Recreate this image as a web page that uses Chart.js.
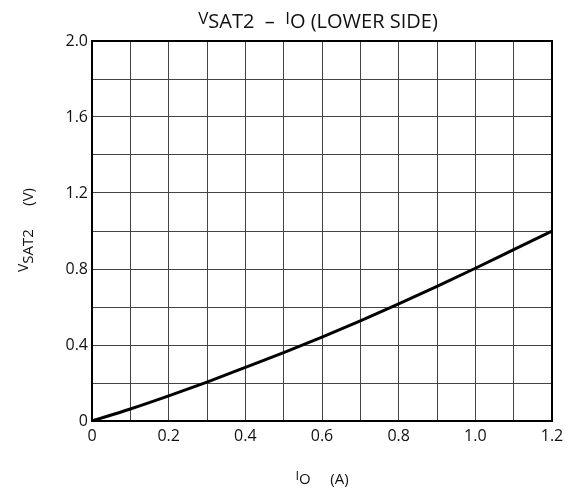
<!DOCTYPE html>
<html>
<head>
<meta charset="utf-8">
<script src="https://cdn.jsdelivr.net/npm/chart.js@4.4.0/dist/chart.umd.min.js"></script>
<style>
  html, body { margin: 0; padding: 0; background: #fff; }
  #wrap { width: 573px; height: 490px; }
</style>
</head>
<body>
<div id="wrap"><canvas id="vsatChart" width="573" height="490"></canvas></div>
<script>
// output current Io (A) and lower side saturation voltage Vsat2 (V)
var currentA = [0, 0.1, 0.2, 0.3, 0.4, 0.5, 0.6, 0.7, 0.8, 0.9, 1.0, 1.1, 1.2];
var vsat2 = [0, 0.063, 0.132, 0.205, 0.282, 0.36, 0.442, 0.527, 0.616, 0.708, 0.804, 0.902, 1.0];

var xTickLabels = ['0', '0.2', '0.4', '0.6', '0.8', '1.0', '1.2'];
var yTickLabels = ['0', '0.4', '0.8', '1.2', '1.6', '2.0'];

// texts: [text, raised] - the leading letter is small and raised like in the datasheet
var titleParts = [['V', 1], ['SAT2', 0], ['  \u2013  ', 0], ['I', 1], ['O', 0], [' (LOWER SIDE)', 0]];
var yTitleParts = [['V', 1], ['SAT2', 0], ['      (V)', 0]];
var xTitleParts = [['I', 1], ['O', 0], ['     (A)', 0]];

var FONT = '"Open Sans", "DejaVu Sans", sans-serif';

function drawParts(ctx, parts, x, y, size, smallSize, rise) {
    var w = 0;
    parts.forEach(function (p) {
        ctx.font = (p[1] ? smallSize : size) + 'px ' + FONT;
        w += ctx.measureText(p[0]).width;
    });
    var cx = x - w / 2;
    ctx.textAlign = 'left';
    ctx.textBaseline = 'alphabetic';
    parts.forEach(function (p) {
        ctx.font = (p[1] ? smallSize : size) + 'px ' + FONT;
        ctx.fillText(p[0], cx, p[1] ? y - rise : y);
        cx += ctx.measureText(p[0]).width;
    });
}

var textPlugin = {
    id: 'richText',
    afterDraw: function (chart) {
        var ctx = chart.ctx;
        var a = chart.chartArea;
        ctx.save();
        // frame
        ctx.strokeStyle = '#000';
        ctx.lineWidth = 2;
        ctx.strokeRect(a.left, a.top, a.right - a.left, a.bottom - a.top);
        ctx.fillStyle = '#111';
        drawParts(ctx, titleParts, 318, 28, 20, 17, 4);
        drawParts(ctx, xTitleParts, 322, 484, 15, 13, 4);
        ctx.translate(33, 230);
        ctx.rotate(-Math.PI / 2);
        drawParts(ctx, yTitleParts, 0, 0, 15, 14, 5);
        ctx.restore();
    }
};

var points = currentA.map(function (x, i) {
    return { x: x, y: vsat2[i] };
});

var vsatConfig = {
    type: 'line',
    data: {
        datasets: [{
            label: 'VSAT2',
            data: points,
            borderColor: '#000',
            borderWidth: 3,
            pointRadius: 0,
            fill: false,
            cubicInterpolationMode: 'monotone'
        }]
    },
    options: {
        responsive: false,
        animation: false,
        layout: { padding: { top: 41, left: 50, right: 21, bottom: 41 } },
        plugins: {
            legend: { display: false },
            tooltip: { enabled: false },
            title: { display: false }
        },
        scales: {
            x: {
                type: 'linear',
                min: 0,
                max: 1.2,
                afterFit: function (s) { s.height = 28; },
                afterBuildTicks: function (s) {
                    s.ticks = currentA.map(function (v) { return { value: v }; });
                },
                ticks: {
                    color: '#111',
                    padding: 6,
                    maxRotation: 0,
                    autoSkip: false,
                    font: { family: FONT, size: 16 },
                    callback: function (v) {
                        var i = Math.round(v * 10);
                        return i % 2 === 0 ? xTickLabels[i / 2] : '';
                    }
                },
                grid: { color: '#444', lineWidth: 1, drawTicks: false },
                border: { display: false }
            },
            y: {
                type: 'linear',
                min: 0,
                max: 2.0,
                afterFit: function (s) { s.width = 42; },
                afterBuildTicks: function (s) {
                    var t = [];
                    for (var i = 0; i <= 10; i++) t.push({ value: i * 0.2 });
                    s.ticks = t;
                },
                ticks: {
                    color: '#111',
                    padding: 4,
                    autoSkip: false,
                    font: { family: FONT, size: 16 },
                    callback: function (v) {
                        var i = Math.round(v * 5);
                        return i % 2 === 0 ? yTickLabels[i / 2] : '';
                    }
                },
                grid: { color: '#444', lineWidth: 1, drawTicks: false },
                border: { display: false }
            }
        }
    },
    plugins: [textPlugin]
};

var vsatChart = new Chart(document.getElementById('vsatChart'), vsatConfig);
</script>
</body>
</html>
